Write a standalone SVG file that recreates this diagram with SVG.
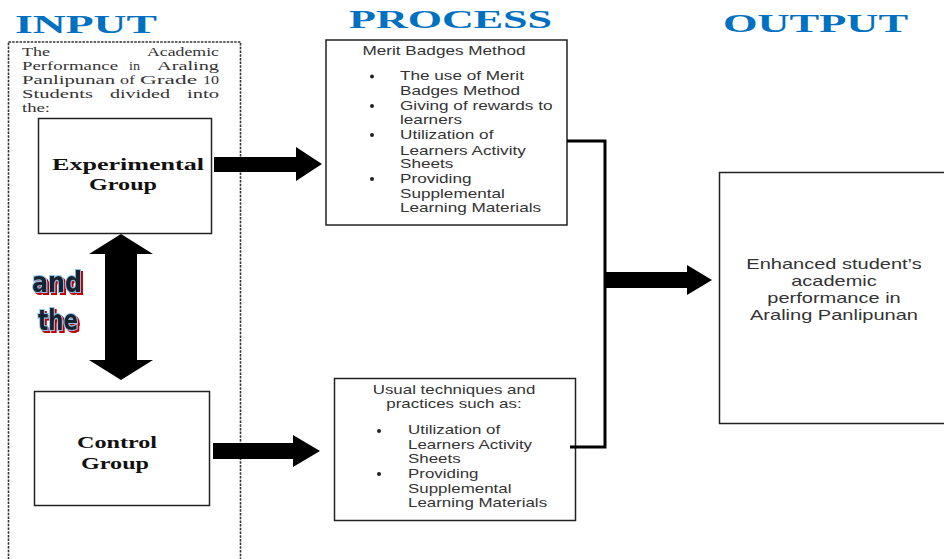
<svg xmlns="http://www.w3.org/2000/svg" width="944" height="559" viewBox="0 0 944 559">
<style>
.title{font-family:"Liberation Serif","Times New Roman",serif;font-weight:bold;font-size:26px;fill:#0070C0}
.ser{font-family:"Liberation Serif","Times New Roman",serif;font-size:13.5px;fill:#333}
.bser{font-family:"Liberation Serif","Times New Roman",serif;font-weight:bold;font-size:16px;fill:#111}
.ar{font-family:"Liberation Sans",Arial,sans-serif;font-size:12px;fill:#333}
.ar14{font-family:"Liberation Sans",Arial,sans-serif;font-size:14px;fill:#333}
.box{fill:#fff;stroke:#222;stroke-width:1.5}
.fat{fill:#000}
.bul{fill:#222}
.conn{fill:none;stroke:#000;stroke-width:3}
.andthe{font-family:"Liberation Sans Narrow","DejaVu Sans Condensed","Liberation Sans",sans-serif;font-weight:bold;font-size:28px;fill:#16202e;stroke:#8fc3ee;stroke-width:2;paint-order:stroke;filter:url(#redshadow)}
</style>
<defs>
<filter id="redshadow" x="-20%" y="-20%" width="150%" height="150%">
<feOffset in="SourceAlpha" dx="2" dy="2" result="off"/>
<feFlood flood-color="#c00000" result="red"/>
<feComposite in="red" in2="off" operator="in" result="shadow"/>
<feMerge><feMergeNode in="shadow"/><feMergeNode in="SourceGraphic"/></feMerge>
</filter>
</defs>
<rect width="944" height="559" fill="#fff"/>

<g id="titles">
<text class="title" x="15" y="33" textLength="142" lengthAdjust="spacingAndGlyphs">INPUT</text>
<text class="title" x="349" y="28" textLength="203" lengthAdjust="spacingAndGlyphs">PROCESS</text>
<text class="title" x="723" y="32" textLength="185" lengthAdjust="spacingAndGlyphs">OUTPUT</text>
</g>

<g id="input">
<rect x="8.5" y="42" width="232" height="530" fill="none" stroke="#333" stroke-width="1.6" stroke-dasharray="2.5 1.2"/>
<text class="ser" x="22" y="56" textLength="28" lengthAdjust="spacingAndGlyphs">The</text>
<text class="ser" x="147" y="56" textLength="72" lengthAdjust="spacingAndGlyphs">Academic</text>
<text class="ser" x="22" y="70" textLength="96" lengthAdjust="spacingAndGlyphs">Performance</text>
<text class="ser" x="129" y="70" textLength="11" lengthAdjust="spacingAndGlyphs">in</text>
<text class="ser" x="157" y="70" textLength="62" lengthAdjust="spacingAndGlyphs">Araling</text>
<text class="ser" x="22" y="84" textLength="93" lengthAdjust="spacingAndGlyphs">Panlipunan</text>
<text class="ser" x="120" y="84" textLength="15" lengthAdjust="spacingAndGlyphs">of</text>
<text class="ser" x="140" y="84" textLength="57" lengthAdjust="spacingAndGlyphs">Grade</text>
<text class="ser" x="203" y="84" textLength="16" lengthAdjust="spacingAndGlyphs">10</text>
<text class="ser" x="22" y="98" textLength="71" lengthAdjust="spacingAndGlyphs">Students</text>
<text class="ser" x="110" y="98" textLength="60" lengthAdjust="spacingAndGlyphs">divided</text>
<text class="ser" x="187" y="98" textLength="32" lengthAdjust="spacingAndGlyphs">into</text>
<text class="ser" x="22" y="112" textLength="28" lengthAdjust="spacingAndGlyphs">the:</text>
</g>

<g id="experimental">
<rect class="box" x="38.5" y="118.5" width="173" height="115"/>
<text class="bser" x="52" y="170" textLength="152" lengthAdjust="spacingAndGlyphs">Experimental</text>
<text class="bser" x="89" y="190" textLength="68" lengthAdjust="spacingAndGlyphs">Group</text>
</g>

<g id="control">
<rect class="box" x="34.5" y="391.5" width="175" height="114"/>
<text class="bser" x="77" y="448" textLength="80" lengthAdjust="spacingAndGlyphs">Control</text>
<text class="bser" x="81" y="469" textLength="68" lengthAdjust="spacingAndGlyphs">Group</text>
</g>

<g id="andthe">
<text class="andthe" x="32" y="292" textLength="50" lengthAdjust="spacingAndGlyphs">and</text>
<text class="andthe" x="38" y="330" textLength="40" lengthAdjust="spacingAndGlyphs">the</text>
</g>

<g id="process-merit">
<rect class="box" x="326" y="40" width="241" height="185" stroke-width="2"/>
<g transform="translate(444,0) scale(1.43,1)">
<text class="ar" x="0" y="55" text-anchor="middle">Merit Badges Method</text>
</g>
<circle class="bul" cx="372" cy="76.5" r="2"/>
<circle class="bul" cx="372" cy="106" r="2"/>
<circle class="bul" cx="372" cy="135" r="2"/>
<circle class="bul" cx="372" cy="179" r="2"/>
<g transform="translate(400,0) scale(1.43,1)">
<text class="ar" x="0" y="80">The use of Merit</text>
<text class="ar" x="0" y="95">Badges Method</text>
<text class="ar" x="0" y="110">Giving of rewards to</text>
<text class="ar" x="0" y="124">learners</text>
<text class="ar" x="0" y="139">Utilization of</text>
<text class="ar" x="0" y="155">Learners Activity</text>
<text class="ar" x="0" y="168">Sheets</text>
<text class="ar" x="0" y="183">Providing</text>
<text class="ar" x="0" y="198">Supplemental</text>
<text class="ar" x="0" y="212">Learning Materials</text>
</g>
</g>

<g id="process-usual">
<rect class="box" x="334.5" y="378.5" width="241" height="142" stroke-width="2"/>
<g transform="translate(454,0) scale(1.41,1)">
<text class="ar" x="0" y="394" text-anchor="middle">Usual techniques and</text>
<text class="ar" x="0" y="408" text-anchor="middle">practices such as:</text>
</g>
<circle class="bul" cx="379" cy="431" r="2"/>
<circle class="bul" cx="379" cy="474" r="2"/>
<g transform="translate(408,0) scale(1.41,1)">
<text class="ar" x="0" y="434">Utilization of</text>
<text class="ar" x="0" y="449">Learners Activity</text>
<text class="ar" x="0" y="463">Sheets</text>
<text class="ar" x="0" y="478">Providing</text>
<text class="ar" x="0" y="493">Supplemental</text>
<text class="ar" x="0" y="507">Learning Materials</text>
</g>
</g>

<g id="output">
<rect class="box" x="719.5" y="172.5" width="240" height="251"/>
<g transform="translate(834,0) scale(1.43,1)">
<text class="ar14" x="0" y="269" text-anchor="middle">Enhanced student’s</text>
<text class="ar14" x="0" y="286" text-anchor="middle">academic</text>
<text class="ar14" x="0" y="303" text-anchor="middle">performance in</text>
<text class="ar14" x="0" y="320" text-anchor="middle">Araling Panlipunan</text>
</g>
</g>

<g id="connectors">
<polygon class="fat" points="121,234 153,254 137,254 137,360 153,360 121,380 89,360 105,360 105,254 89,254"/>
<polygon class="fat" points="214,157 296,157 296,147 322,164 296,181 296,172 214,172"/>
<polygon class="fat" points="213,443 293,443 293,435 320,451 293,467 293,459 213,459"/>
<polyline class="conn" points="567,141 605,141 605,447 570,447"/>
<polygon class="fat" points="606,272 687,272 687,265 712,280 687,295 687,288 606,288"/>
</g>
</svg>
